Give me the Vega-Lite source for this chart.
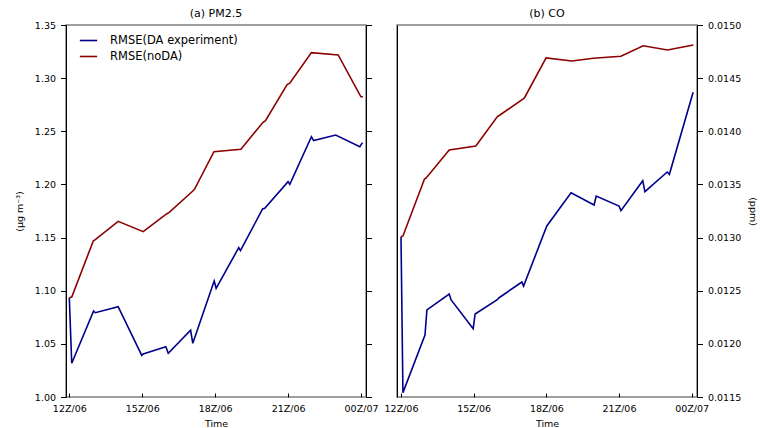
{
  "$schema": "https://vega.github.io/schema/vega-lite/v6.json",
  "padding": {"left": 13, "top": 7, "right": 5, "bottom": 2},
  "background": "white",
  "config": {
    "font": "DejaVu Sans",
    "view": {"stroke": "#808080", "strokeWidth": 1.5},
    "axis": {"grid": false, "labelColor": "black", "titleColor": "black", "tickColor": "black", "domainColor": "black", "labelFontSize": 9.5, "titleFontSize": 9.5, "titleFontWeight": "normal", "labelFont": "DejaVu Sans", "titleFont": "DejaVu Sans"},
    "title": {"fontSize": 11, "fontWeight": "normal", "color": "black", "font": "DejaVu Sans"},
    "legend": {"labelFont": "DejaVu Sans"}
  },
  "datasets": {
    "pm": [
      {"s": "RMSE(DA experiment)", "t": 0, "v": 1.0934},
      {"s": "RMSE(DA experiment)", "t": 0.1, "v": 1.0317},
      {"s": "RMSE(DA experiment)", "t": 1.0, "v": 1.0809},
      {"s": "RMSE(DA experiment)", "t": 1.07, "v": 1.0793},
      {"s": "RMSE(DA experiment)", "t": 2.01, "v": 1.085},
      {"s": "RMSE(DA experiment)", "t": 2.98, "v": 1.0392},
      {"s": "RMSE(DA experiment)", "t": 3.04, "v": 1.0405},
      {"s": "RMSE(DA experiment)", "t": 3.97, "v": 1.0473},
      {"s": "RMSE(DA experiment)", "t": 4.07, "v": 1.0411},
      {"s": "RMSE(DA experiment)", "t": 4.99, "v": 1.0628},
      {"s": "RMSE(DA experiment)", "t": 5.08, "v": 1.0505},
      {"s": "RMSE(DA experiment)", "t": 5.96, "v": 1.1092},
      {"s": "RMSE(DA experiment)", "t": 6.04, "v": 1.1023},
      {"s": "RMSE(DA experiment)", "t": 6.97, "v": 1.1405},
      {"s": "RMSE(DA experiment)", "t": 7.04, "v": 1.1377},
      {"s": "RMSE(DA experiment)", "t": 7.95, "v": 1.1769},
      {"s": "RMSE(DA experiment)", "t": 8.04, "v": 1.1776},
      {"s": "RMSE(DA experiment)", "t": 9.0, "v": 1.2026},
      {"s": "RMSE(DA experiment)", "t": 9.07, "v": 1.2001},
      {"s": "RMSE(DA experiment)", "t": 9.96, "v": 1.2449},
      {"s": "RMSE(DA experiment)", "t": 10.05, "v": 1.2412},
      {"s": "RMSE(DA experiment)", "t": 10.96, "v": 1.2465},
      {"s": "RMSE(DA experiment)", "t": 11.95, "v": 1.2355},
      {"s": "RMSE(DA experiment)", "t": 12.06, "v": 1.2393},
      {"s": "RMSE(noDA)", "t": 0, "v": 1.0934},
      {"s": "RMSE(noDA)", "t": 0.1, "v": 1.0941},
      {"s": "RMSE(noDA)", "t": 0.99, "v": 1.147},
      {"s": "RMSE(noDA)", "t": 1.07, "v": 1.148},
      {"s": "RMSE(noDA)", "t": 2.01, "v": 1.1653},
      {"s": "RMSE(noDA)", "t": 3.04, "v": 1.1556},
      {"s": "RMSE(noDA)", "t": 4.0, "v": 1.1722},
      {"s": "RMSE(noDA)", "t": 4.1, "v": 1.1734},
      {"s": "RMSE(noDA)", "t": 5.07, "v": 1.1936},
      {"s": "RMSE(noDA)", "t": 5.15, "v": 1.1954},
      {"s": "RMSE(noDA)", "t": 5.95, "v": 1.2308},
      {"s": "RMSE(noDA)", "t": 7.06, "v": 1.2331},
      {"s": "RMSE(noDA)", "t": 7.97, "v": 1.2585},
      {"s": "RMSE(noDA)", "t": 8.07, "v": 1.26},
      {"s": "RMSE(noDA)", "t": 8.96, "v": 1.2939},
      {"s": "RMSE(noDA)", "t": 9.07, "v": 1.2952},
      {"s": "RMSE(noDA)", "t": 9.96, "v": 1.324},
      {"s": "RMSE(noDA)", "t": 11.06, "v": 1.3218},
      {"s": "RMSE(noDA)", "t": 11.99, "v": 1.2826},
      {"s": "RMSE(noDA)", "t": 12.08, "v": 1.2823}
    ],
    "co": [
      {"s": "RMSE(DA experiment)", "t": 0, "v": 0.013008},
      {"s": "RMSE(DA experiment)", "t": 0.08, "v": 0.011541},
      {"s": "RMSE(DA experiment)", "t": 0.99, "v": 0.012083},
      {"s": "RMSE(DA experiment)", "t": 1.07, "v": 0.012319},
      {"s": "RMSE(DA experiment)", "t": 1.99, "v": 0.012469},
      {"s": "RMSE(DA experiment)", "t": 2.07, "v": 0.012413},
      {"s": "RMSE(DA experiment)", "t": 2.98, "v": 0.012143},
      {"s": "RMSE(DA experiment)", "t": 3.06, "v": 0.012281},
      {"s": "RMSE(DA experiment)", "t": 3.96, "v": 0.012413},
      {"s": "RMSE(DA experiment)", "t": 4.05, "v": 0.012434},
      {"s": "RMSE(DA experiment)", "t": 4.99, "v": 0.012582},
      {"s": "RMSE(DA experiment)", "t": 5.06, "v": 0.012544},
      {"s": "RMSE(DA experiment)", "t": 6.02, "v": 0.013109},
      {"s": "RMSE(DA experiment)", "t": 7.02, "v": 0.013422},
      {"s": "RMSE(DA experiment)", "t": 7.97, "v": 0.013307},
      {"s": "RMSE(DA experiment)", "t": 8.06, "v": 0.013391},
      {"s": "RMSE(DA experiment)", "t": 9.0, "v": 0.013297},
      {"s": "RMSE(DA experiment)", "t": 9.08, "v": 0.013253},
      {"s": "RMSE(DA experiment)", "t": 9.98, "v": 0.013535},
      {"s": "RMSE(DA experiment)", "t": 10.07, "v": 0.013432},
      {"s": "RMSE(DA experiment)", "t": 10.99, "v": 0.013617},
      {"s": "RMSE(DA experiment)", "t": 11.08, "v": 0.013595},
      {"s": "RMSE(DA experiment)", "t": 12.06, "v": 0.014367},
      {"s": "RMSE(noDA)", "t": 0, "v": 0.013008},
      {"s": "RMSE(noDA)", "t": 0.08, "v": 0.013015},
      {"s": "RMSE(noDA)", "t": 0.97, "v": 0.013551},
      {"s": "RMSE(noDA)", "t": 1.04, "v": 0.013561},
      {"s": "RMSE(noDA)", "t": 1.99, "v": 0.013824},
      {"s": "RMSE(noDA)", "t": 3.09, "v": 0.013862},
      {"s": "RMSE(noDA)", "t": 3.98, "v": 0.014138},
      {"s": "RMSE(noDA)", "t": 4.07, "v": 0.014151},
      {"s": "RMSE(noDA)", "t": 5.06, "v": 0.014307},
      {"s": "RMSE(noDA)", "t": 5.1, "v": 0.014316},
      {"s": "RMSE(noDA)", "t": 5.99, "v": 0.01469},
      {"s": "RMSE(noDA)", "t": 7.05, "v": 0.014661},
      {"s": "RMSE(noDA)", "t": 7.94, "v": 0.014687},
      {"s": "RMSE(noDA)", "t": 9.08, "v": 0.014706},
      {"s": "RMSE(noDA)", "t": 10.0, "v": 0.014805},
      {"s": "RMSE(noDA)", "t": 11.0, "v": 0.014765},
      {"s": "RMSE(noDA)", "t": 12.07, "v": 0.014812}
    ]
  },
  "spacing": 31,
  "bounds": "flush",
  "hconcat": [
    {
      "width": 300,
      "height": 372,
      "title": {"text": "(a) PM2.5", "offset": 1},
      "data": {"name": "pm"},
      "encoding": {
        "x": {"field": "t", "type": "quantitative", "scale": {"domain": [-0.136, 12.205], "nice": false, "zero": false},
          "axis": {"values": [0, 3, 6, 9, 12], "labelExpr": "datum.value == 0 ? '12Z/06' : datum.value == 3 ? '15Z/06' : datum.value == 6 ? '18Z/06' : datum.value == 9 ? '21Z/06' : '00Z/07'", "title": "Time", "domain": false, "tickSize": -4, "labelPadding": 10, "titlePadding": 6}}
      },
      "layer": [
        {
          "mark": {"type": "line", "strokeWidth": 1.6},
          "encoding": {
            "y": {"field": "v", "type": "quantitative", "scale": {"domain": [1.0, 1.35], "nice": false, "zero": false},
              "axis": {"orient": "left", "values": [1.0, 1.05, 1.1, 1.15, 1.2, 1.25, 1.3, 1.35], "format": ".2f", "title": "(μg m⁻³)", "tickSize": 5.5, "labelPadding": 5, "titlePadding": 10}},
            "color": {"field": "s", "type": "nominal",
              "scale": {"domain": ["RMSE(DA experiment)", "RMSE(noDA)"], "range": ["#00008B", "#8B0000"]},
              "legend": {"orient": "none", "legendX": 13, "legendY": 6, "title": null, "symbolType": "stroke", "symbolStrokeWidth": 1.6, "symbolSize": 300, "labelFontSize": 11.5, "labelOffset": 12, "rowPadding": 1, "padding": 0, "labelColor": "black"}}
          }
        },
        {
          "mark": {"type": "line", "opacity": 0},
          "encoding": {
            "detail": {"field": "s"},
            "y": {"field": "v", "type": "quantitative", "scale": {"domain": [1.0, 1.35], "nice": false, "zero": false},
              "axis": {"orient": "right", "values": [1.0, 1.05, 1.1, 1.15, 1.2, 1.25, 1.3, 1.35], "labels": false, "title": null, "tickSize": 5.5}}
          }
        }
      ],
      "resolve": {"scale": {"y": "independent"}}
    },
    {
      "width": 300,
      "height": 372,
      "title": {"text": "(b) CO", "offset": 1},
      "data": {"name": "co"},
      "encoding": {
        "x": {"field": "t", "type": "quantitative", "scale": {"domain": [-0.165, 12.22], "nice": false, "zero": false},
          "axis": {"values": [0, 3, 6, 9, 12], "labelExpr": "datum.value == 0 ? '12Z/06' : datum.value == 3 ? '15Z/06' : datum.value == 6 ? '18Z/06' : datum.value == 9 ? '21Z/06' : '00Z/07'", "title": "Time", "domain": false, "tickSize": -4, "labelPadding": 10, "titlePadding": 6}}
      },
      "layer": [
        {
          "mark": {"type": "line", "strokeWidth": 1.6},
          "encoding": {
            "y": {"field": "v", "type": "quantitative", "scale": {"domain": [0.0115, 0.015], "nice": false, "zero": false},
              "axis": {"orient": "right", "values": [0.0115, 0.012, 0.0125, 0.013, 0.0135, 0.014, 0.0145, 0.015], "format": ".4f", "title": "(ppm)", "tickSize": 5.5, "labelPadding": 5, "titlePadding": 7}},
            "color": {"field": "s", "type": "nominal",
              "scale": {"domain": ["RMSE(DA experiment)", "RMSE(noDA)"], "range": ["#00008B", "#8B0000"]},
              "legend": null}
          }
        },
        {
          "mark": {"type": "line", "opacity": 0},
          "encoding": {
            "detail": {"field": "s"},
            "y": {"field": "v", "type": "quantitative", "scale": {"domain": [0.0115, 0.015], "nice": false, "zero": false},
              "axis": {"orient": "left", "ticks": false, "labels": false, "title": null}}
          }
        }
      ],
      "resolve": {"scale": {"y": "independent"}}
    }
  ]
}
